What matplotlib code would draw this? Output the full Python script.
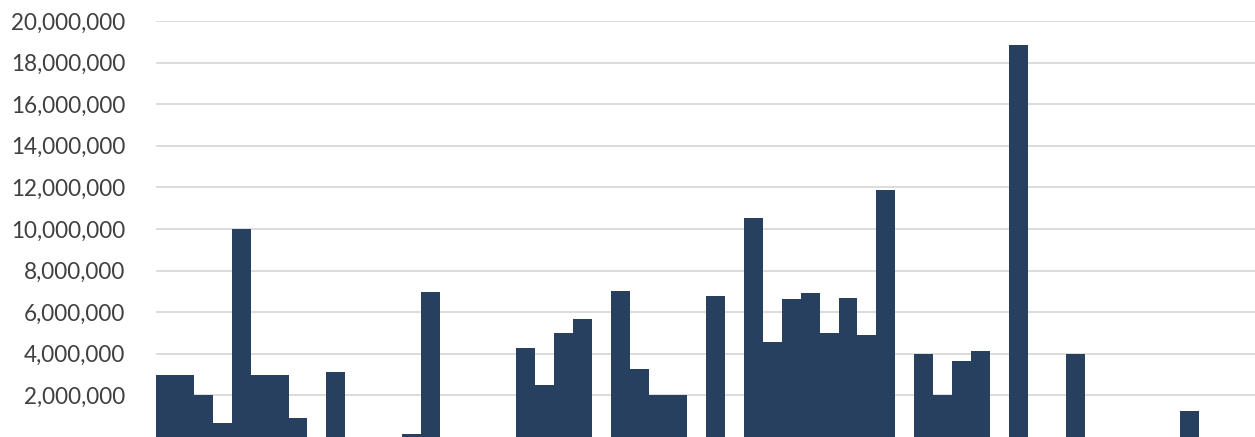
import matplotlib
matplotlib.use("Agg")
import numpy as np
import matplotlib.pyplot as plt
from matplotlib.ticker import FuncFormatter

# values in millions, one per slot (empty slots are 0)
values = [3.0, 3.0, 2.0, 0.67, 10.0, 3.0, 3.0, 0.9, 0, 3.12,
          0, 0, 0, 0.15, 6.95, 0, 0, 0, 0, 4.28,
          2.48, 5.0, 5.69, 0, 7.0, 3.27, 2.0, 2.0, 0, 6.79,
          0, 10.53, 4.55, 6.63, 6.9, 5.0, 6.7, 4.92, 11.89, 0,
          4.0, 2.0, 3.65, 4.15, 0, 18.84, 0, 0, 4.0, 0,
          0, 0, 0, 0, 1.23, 0, 0, 0]
yticks = [2, 4, 6, 8, 10, 12, 14, 16, 18, 20]

values = np.array(values) * 1e6
x = np.arange(len(values))

fig = plt.figure(figsize=(12.55, 4.37), dpi=100)
ax = fig.add_axes([0.1241, 0.0, 0.8765, 0.952])

ax.bar(x, values, width=1.0, color="#27405f", linewidth=0, zorder=3)

ax.set_xlim(-0.5, len(values) - 0.5)
ax.set_ylim(0, 20e6)
ax.set_yticks([v * 1e6 for v in yticks])
ax.yaxis.set_major_formatter(FuncFormatter(lambda v, p: f"{int(v):,}"))
ax.grid(axis="y", color="#d9d9d9", linewidth=1.3, zorder=0)
ax.set_xticks([])
for s in ax.spines.values():
    s.set_visible(False)

# size the tick labels so "20,000,000" is about 115 px wide, ending near x=125
base = 16
ax.tick_params(axis="y", length=0, pad=22, labelsize=base, labelcolor="#404040")
for lab in ax.get_yticklabels():
    lab.set_family(["Lato", "DejaVu Sans"])
fig.canvas.draw()
r = fig.canvas.get_renderer()
w = max(l.get_window_extent(r).width for l in ax.get_yticklabels())
ax.tick_params(axis="y", labelsize=base * 115 / w)
for lab in ax.get_yticklabels():
    lab.set_family(["Lato", "DejaVu Sans"])

fig.savefig("out.png", dpi=100)
